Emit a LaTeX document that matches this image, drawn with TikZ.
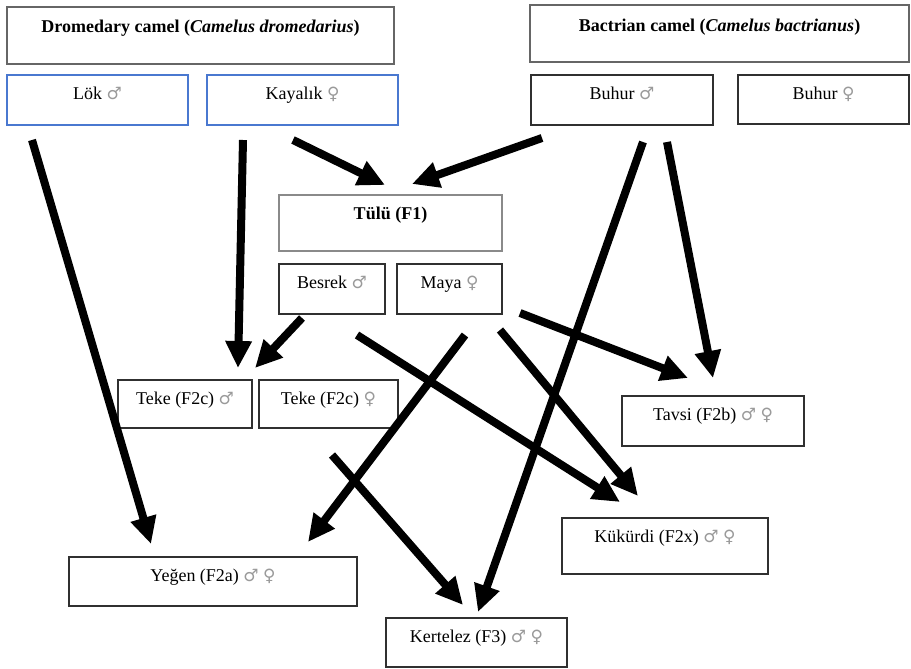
\documentclass[tikz,border=0pt]{standalone}
\usepackage{fontspec}
\setmainfont{Liberation Serif}
\newfontfamily\symfont{DejaVu Sans}
\usetikzlibrary{arrows.meta,fit,calc}
\definecolor{boxblue}{HTML}{4A78D0}
\definecolor{boxdark}{HTML}{303030}
\definecolor{boxgray}{HTML}{666666}
\definecolor{boxlight}{HTML}{8A8A8A}
\definecolor{symgray}{HTML}{9A9A9A}
\newcommand\male{{\symfont\fontsize{17}{20}\selectfont\color{symgray}♂}}
\newcommand\female{{\symfont\fontsize{17}{20}\selectfont\color{symgray}♀}}
\begin{document}
\begin{tikzpicture}[x=1pt,y=-1pt,
  box/.style={draw=boxdark, line width=1.3pt, inner sep=0pt},
  bluebox/.style={box, draw=boxblue},
  graybox/.style={box, draw=boxgray},
  lightbox/.style={box, draw=boxlight},
  lbl/.style={anchor=base, inner sep=0pt, font=\fontsize{18}{21}\selectfont},
  blbl/.style={anchor=base, inner sep=0pt, font=\fontsize{18}{21}\selectfont\bfseries},
  arr/.style={line width=8pt, -{Triangle[length=27pt,width=25pt]}}]
\useasboundingbox (0,0) rectangle (911,669);

% boxes
\node[graybox, fit={(7,7) (394,64)}] (drom) {};
\node[graybox, fit={(530,5) (909,62)}] (bact) {};
\node[bluebox, fit={(7,75) (188,125)}] (lok) {};
\node[bluebox, fit={(207,75) (398,125)}] (kay) {};
\node[box, fit={(531,75) (713,125)}] (buhm) {};
\node[box, fit={(738,75) (909,124)}] (buhf) {};
\node[lightbox, fit={(279,195) (502,251)}] (tulu) {};
\node[box, fit={(279,264) (385,314)}] (besrek) {};
\node[box, fit={(397,264) (502,314)}] (maya) {};
\node[box, fit={(118,380) (252,428)}] (tekem) {};
\node[box, fit={(259,380) (398,428)}] (tekef) {};
\node[box, fit={(622,396) (804,446)}] (tavsi) {};
\node[box, fit={(562,518) (768,574)}] (kuk) {};
\node[box, fit={(69,557) (357,606)}] (yegen) {};
\node[box, fit={(386,618) (567,667)}] (kert) {};

% labels
\node[blbl] (drom-t) at ($(drom.north)+(0,26)$) {Dromedary camel (\textit{Camelus dromedarius})};
\node[blbl] (bact-t) at ($(bact.north)+(0,27)$) {Bactrian camel (\textit{Camelus bactrianus})};
\node[lbl] (lok-t) at ($(lok.north)+(0,25)$) {Lök \male};
\node[lbl] (kay-t) at ($(kay.north)+(0,25)$) {Kayalık \female};
\node[lbl] (buhm-t) at ($(buhm.north)+(0,25)$) {Buhur \male};
\node[lbl] (buhf-t) at ($(buhf.north)+(0,25)$) {Buhur \female};
\node[blbl] (tulu-t) at ($(tulu.north)+(0,25)$) {Tülü (F1)};
\node[lbl] (besrek-t) at ($(besrek.north)+(0,25)$) {Besrek \male};
\node[lbl] (maya-t) at ($(maya.north)+(0,25)$) {Maya \female};
\node[lbl] (tekem-t) at ($(tekem.north)+(0,25)$) {Teke (F2c) \male};
\node[lbl] (tekef-t) at ($(tekef.north)+(0,25)$) {Teke (F2c) \female};
\node[lbl] (tavsi-t) at ($(tavsi.north)+(0,25)$) {Tavsi (F2b) \male\ \female};
\node[lbl] (kuk-t) at ($(kuk.north)+(0,25)$) {Kükürdi (F2x) \male\ \female};
\node[lbl] (yegen-t) at ($(yegen.north)+(0,25)$) {Yeğen (F2a) \male\ \female};
\node[lbl] (kert-t) at ($(kert.north)+(0,25)$) {Kertelez (F3) \male\ \female};

% connector ends
\coordinate (lok-s) at (32,140);     \coordinate (yegen-e1) at (151,544);
\coordinate (kay-s1) at (243,140);   \coordinate (tekem-e1) at (238,368);
\coordinate (kay-s2) at (293,140);   \coordinate (tulu-e1) at (385,185);
\coordinate (buhm-s1) at (542,138);  \coordinate (tulu-e2) at (412,184);
\coordinate (buhm-s2) at (643,142);  \coordinate (kert-e2) at (478,612);
\coordinate (buhm-s3) at (667,142);  \coordinate (tavsi-e2) at (713,378);
\coordinate (maya-s1) at (520,313);  \coordinate (tavsi-e1) at (688,378);
\coordinate (besrek-s1) at (302,318);\coordinate (tekem-e2) at (255,368);
\coordinate (besrek-s2) at (357,335);\coordinate (kuk-e1) at (620,502);
\coordinate (maya-s2) at (500,330);  \coordinate (kuk-e2) at (638,496);
\coordinate (maya-s3) at (465,335);  \coordinate (yegen-e2) at (308,542);
\coordinate (teke-s) at (332,455);   \coordinate (kert-e1) at (463,605);

% connectors
\draw[arr] (lok-s) -- (yegen-e1);
\draw[arr] (kay-s1) -- (tekem-e1);
\draw[arr] (kay-s2) -- (tulu-e1);
\draw[arr] (buhm-s1) -- (tulu-e2);
\draw[arr] (buhm-s2) -- (kert-e2);
\draw[arr] (buhm-s3) -- (tavsi-e2);
\draw[arr] (maya-s1) -- (tavsi-e1);
\draw[arr] (besrek-s1) -- (tekem-e2);
\draw[arr] (besrek-s2) -- (kuk-e1);
\draw[arr] (maya-s2) -- (kuk-e2);
\draw[arr] (maya-s3) -- (yegen-e2);
\draw[arr] (teke-s) -- (kert-e1);
\end{tikzpicture}
\end{document}
